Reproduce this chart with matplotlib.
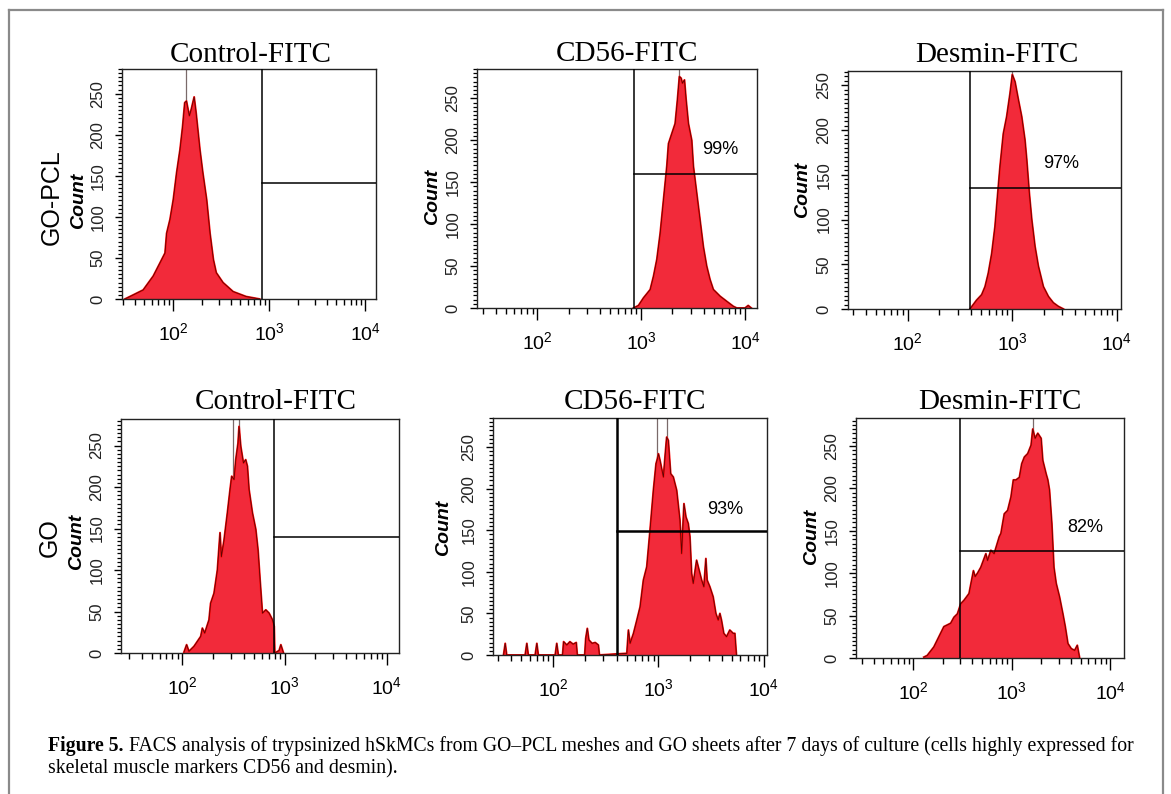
"""
FACS histograms (Figure 5): hSkMCs on GO-PCL meshes (top row) and GO sheets
(bottom row), stained with control / CD56 / desmin FITC antibodies.
"""
import numpy as np
import matplotlib
matplotlib.use("Agg")
import matplotlib.pyplot as plt  # noqa: E402
from matplotlib.lines import Line2D  # noqa: E402
from matplotlib.ticker import LogLocator, MultipleLocator, NullFormatter  # noqa: E402

W, H = 1171, 794
plt.rcParams["font.family"] = ["Liberation Sans", "DejaVu Sans"]

# ---- histogram outlines: log10(FITC intensity) and event count -------------
gopcl_ctrl_log = [1.50, 1.587, 1.69, 1.795, 1.865, 1.917, 1.934, 1.969, 2.003, 2.038,
                  2.073, 2.10, 2.122, 2.14, 2.17, 2.19, 2.22, 2.24, 2.28,
                  2.31, 2.35, 2.385, 2.42, 2.45, 2.52, 2.625, 2.76, 2.90]
gopcl_ctrl_count = [0, 5, 11, 28, 44, 56, 80, 97, 121, 154,
                    182, 210, 239, 241, 223, 231, 246, 227, 182,
                    154, 121, 80, 48, 32, 20, 9, 3, 0]

gopcl_cd56_log = [2.926, 2.974, 3.022, 3.087, 3.119, 3.151, 3.183, 3.215, 3.247, 3.263,
                  3.295, 3.327, 3.349, 3.368, 3.385, 3.397, 3.417, 3.433, 3.455,
                  3.487, 3.503, 3.535, 3.567, 3.599, 3.631, 3.663, 3.695, 3.76, 3.823,
                  3.887, 3.92, 4.0, 4.03, 4.06]
gopcl_cd56_count = [0, 3, 12, 22, 38, 58, 89, 129, 169, 196,
                    208, 220, 248, 276, 274, 268, 272, 248, 220,
                    200, 169, 137, 105, 73, 50, 34, 22, 14, 8,
                    2, 0, 0, 3, 0]

gopcl_desmin_log = [2.596, 2.66, 2.708, 2.74, 2.771, 2.804, 2.835, 2.867, 2.883, 2.915,
                    2.947, 2.979, 3.001, 3.027, 3.059, 3.091, 3.122, 3.139, 3.164, 3.187,
                    3.218, 3.25, 3.298, 3.346, 3.393, 3.44, 3.49]
gopcl_desmin_count = [0, 10, 16, 25, 40, 62, 92, 137, 159, 196,
                      215, 241, 262, 254, 234, 215, 189, 167, 129, 100,
                      70, 48, 25, 14, 7, 3, 0]

go_ctrl_log = [2.016, 2.042, 2.065, 2.114, 2.18, 2.196, 2.219, 2.261, 2.277, 2.31,
               2.343, 2.369, 2.382, 2.408, 2.441, 2.467, 2.483, 2.506,
               2.523, 2.545, 2.555, 2.572, 2.598, 2.62, 2.637, 2.653, 2.686, 2.719,
               2.741, 2.761, 2.784, 2.817, 2.849, 2.882, 2.899, 2.905, 2.947, 2.964,
               2.99]
go_ctrl_count = [1, 10, 2, 8, 20, 30, 24, 40, 60, 72,
                 100, 145, 116, 136, 169, 197, 213, 209,
                 233, 253, 273, 249, 229, 233, 225, 197, 169, 149,
                 124, 88, 48, 52, 48, 40, 32, 0, 3, 10,
                 0]

go_cd56_log = [1.53, 1.546, 1.56, 1.735, 1.751, 1.765, 1.83, 1.846, 1.86, 2.02,
               2.035, 2.05, 2.09, 2.10, 2.13, 2.16, 2.19, 2.22, 2.23, 2.30,
               2.31, 2.325, 2.34, 2.37, 2.40, 2.43, 2.44, 2.70, 2.715, 2.731,
               2.763, 2.795, 2.826, 2.857, 2.889, 2.92, 2.952, 2.977, 2.99, 3.0,
               3.015, 3.047, 3.062, 3.078, 3.094, 3.116, 3.141, 3.173, 3.204, 3.22,
               3.242, 3.261, 3.283, 3.299, 3.315, 3.33, 3.362, 3.378, 3.41, 3.431,
               3.45, 3.462, 3.488, 3.519, 3.545, 3.567, 3.583, 3.598, 3.62, 3.646,
               3.677, 3.709, 3.725, 3.74]
go_cd56_count = [0, 14, 0, 0, 14, 0, 0, 14, 0, 0,
                 14, 0, 0, 16, 12, 16, 13, 15, 0, 0,
                 20, 32, 18, 14, 15, 12, 0, 2, 30, 14,
                 26, 42, 58, 90, 106, 150, 198, 230, 236, 242,
                 234, 214, 238, 262, 258, 218, 214, 198, 162, 122,
                 182, 166, 158, 142, 98, 86, 114, 106, 90, 82,
                 116, 90, 82, 70, 50, 42, 50, 42, 26, 22,
                 30, 26, 26, 0]

go_desmin_log = [2.108, 2.143, 2.21, 2.261, 2.312, 2.347, 2.381, 2.414, 2.449, 2.483,
                 2.516, 2.567, 2.612, 2.629, 2.653, 2.687, 2.738, 2.755, 2.789, 2.822,
                 2.874, 2.891, 2.925, 2.959, 2.993, 3.017, 3.044, 3.078, 3.102, 3.129,
                 3.163, 3.197, 3.214, 3.238, 3.265, 3.299, 3.316, 3.35, 3.367,
                 3.384, 3.408, 3.429, 3.452, 3.486, 3.52, 3.544, 3.571, 3.605, 3.639,
                 3.666, 3.69]
go_desmin_count = [1, 3, 13, 25, 37, 39, 41, 48, 52, 64,
                   68, 76, 103, 96, 100, 107, 123, 115, 127, 123,
                   143, 147, 170, 174, 190, 210, 210, 213, 229, 237,
                   241, 251, 270, 259, 265, 259, 233, 217, 210,
                   198, 158, 107, 88, 72, 52, 37, 17, 11, 9,
                   15, 0]

# single-channel off-scale spikes (log10 intensity), drawn as thin grey lines
gopcl_ctrl_spikes = [2.132]
gopcl_cd56_spikes = [3.368]
gopcl_desmin_spikes = [3.001]
go_ctrl_spikes = [2.496, 2.555]
go_cd56_spikes = [2.99, 3.078]
go_desmin_spikes = [3.214]

# gates: log10 threshold (vertical line), marker line height, positive fraction
gate_log = [2.93, 2.93, 2.60, 2.90, 2.61, 2.48]
gate_count = [141, 160, 135, 140, 149, 126]
positive_pct = [None, "99%", "97%", None, "93%", "82%"]

titles = ["Control-FITC", "CD56-FITC", "Desmin-FITC",
          "Control-FITC", "CD56-FITC", "Desmin-FITC"]
row_labels = ["GO-PCL", "GO"]
caption_bold = "Figure 5."
caption_rest = (" FACS analysis of trypsinized hSkMCs from GO\u2013PCL meshes and GO sheets "
                "after 7 days of culture (cells highly expressed for")
caption_line2 = "skeletal muscle markers CD56 and desmin)."

hists = [(gopcl_ctrl_log, gopcl_ctrl_count, gopcl_ctrl_spikes),
         (gopcl_cd56_log, gopcl_cd56_count, gopcl_cd56_spikes),
         (gopcl_desmin_log, gopcl_desmin_count, gopcl_desmin_spikes),
         (go_ctrl_log, go_ctrl_count, go_ctrl_spikes),
         (go_cd56_log, go_cd56_count, go_cd56_spikes),
         (go_desmin_log, go_desmin_count, go_desmin_spikes)]

# ---- layout (pixels in the 1171x794 canvas) ---------------------------------
# box: left, top, right, bottom(y=0); xlim in log10; y top; title centre/baseline;
# "Count" centre; percentage label centre; gate line width
LAYOUT = [
    dict(box=(122, 69, 376, 299), xl=(1.47, 4.11), ytop=280, title=(251, 62),
         count=(79, 201), pct=None, gw=1.1),
    dict(box=(477, 69, 757, 308), xl=(1.42, 4.115), ytop=285, title=(627, 61),
         count=(433, 197), pct=(720, 149), gw=1.1),
    dict(box=(848, 71, 1121, 309), xl=(1.43, 4.04), ytop=266, title=(997, 62),
         count=(803, 190), pct=(1061, 164), gw=1.1),
    dict(box=(121, 419, 399, 653), xl=(1.40, 4.12), ytop=282, title=(276, 409),
         count=(77, 542), pct=None, gw=1.1),
    dict(box=(493, 418, 767, 655), xl=(1.43, 4.03), ytop=285, title=(635, 409),
         count=(444, 528), pct=(725, 510), gw=1.8),
    dict(box=(856, 418, 1124, 658), xl=(1.42, 4.14), ytop=283, title=(1000, 409),
         count=(812, 537), pct=(1085, 528), gw=1.1),
]
ROW_LABEL_POS = [(52, 197), (50, 538)]

FILL = "#f22a3a"
EDGE = "#ff0a0a"
DARK = "#5a0505"


def fx(px):
    return px / W


def fy(py):
    return 1 - py / H


fig = plt.figure(figsize=(W / 100, H / 100), dpi=100)

for i, lay in enumerate(LAYOUT):
    l, t, r, b = lay["box"]
    ax = fig.add_axes([fx(l), fy(b), (r - l) / W, (b - t) / H])
    lg, cnt, spikes = hists[i]
    x = 10 ** np.array(lg)
    y = np.array(cnt, dtype=float)
    ax.vlines(10 ** np.array(spikes), 0, 300, color="#7a6a6a", lw=0.9, zorder=0.5)
    ax.fill_between(x, y, 0, facecolor=FILL, edgecolor="none", zorder=1)
    ax.plot(x, y, color=EDGE, lw=1.4, zorder=2)
    ax.plot(x, y, color=DARK, lw=0.6, zorder=3)

    ax.set_xscale("log")
    # gate
    gx = 10 ** gate_log[i]
    ax.axvline(gx, color="black", lw=lay["gw"], zorder=4)
    ax.plot([gx, 10 ** lay["xl"][1]], [gate_count[i]] * 2, color="black",
            lw=lay["gw"], zorder=4)

    ax.set_xticks([1e2, 1e3, 1e4],
                  [r"$\mathdefault{10^{2}}$", r"$\mathdefault{10^{3}}$",
                   r"$\mathdefault{10^{4}}$"], fontsize=14)
    ax.xaxis.set_minor_locator(LogLocator(base=10, subs=np.arange(2, 10)))
    ax.xaxis.set_minor_formatter(NullFormatter())
    ax.set_yticks([0, 50, 100, 150, 200, 250],
                  ["0", "50", "100", "150", "200", "250"],
                  rotation=90, va="center", fontsize=12, color="#222222")
    ax.yaxis.set_minor_locator(MultipleLocator(5))
    ax.set_xlim(10 ** lay["xl"][0], 10 ** lay["xl"][1])
    ax.set_ylim(0, lay["ytop"])

    ax.tick_params(axis="x", which="major", direction="out", length=8.5, width=1.0, pad=8)
    ax.tick_params(axis="x", which="minor", direction="out", length=4.5, width=1.0)
    ax.tick_params(axis="y", which="major", direction="out", length=5, width=1.0, pad=7)
    ax.tick_params(axis="y", which="minor", direction="out", length=3, width=0.9)
    for s in ax.spines.values():
        s.set_linewidth(1.0)
        s.set_color("#222222")

    tx, ty = lay["title"]
    fig.text(fx(tx), fy(ty), titles[i], family=["Liberation Serif"], fontsize=21,
             ha="center", va="baseline")
    cx, cy = lay["count"]
    fig.text(fx(cx), fy(cy), "Count", fontsize=14, fontweight="bold",
             style="italic", rotation=90, ha="center", va="center")
    if lay["pct"] is not None:
        px_, py_ = lay["pct"]
        fig.text(fx(px_), fy(py_), positive_pct[i], fontsize=13,
                 ha="center", va="center")

for lab, (lx, ly) in zip(row_labels, ROW_LABEL_POS):
    fig.text(fx(lx), fy(ly), lab, fontsize=18, rotation=90, ha="center", va="center")

# frame around the figure (open at the bottom, as in the cropped page)
frame_kw = dict(color="#8a8a8a", lw=1.6, transform=fig.transFigure)
fig.add_artist(Line2D([fx(9), fx(9)], [fy(10), 0], **frame_kw))
fig.add_artist(Line2D([fx(9), fx(1163)], [fy(10), fy(10)], **frame_kw))
fig.add_artist(Line2D([fx(1163), fx(1163)], [fy(10), 0], **frame_kw))

# caption
serif = ["Liberation Serif"]
cap_size = 14.2
cap_x = 48
renderer = fig.canvas.get_renderer()
t1 = fig.text(fx(cap_x), fy(751), caption_bold, family=serif, fontsize=cap_size,
              fontweight="bold", ha="left", va="baseline")
w1 = t1.get_window_extent(renderer).width
fig.text(fx(cap_x + w1), fy(751), caption_rest, family=serif, fontsize=cap_size,
         ha="left", va="baseline")
fig.text(fx(cap_x), fy(773), caption_line2, family=serif, fontsize=cap_size,
         ha="left", va="baseline")

fig.savefig("out.png", dpi=100, facecolor="white")
